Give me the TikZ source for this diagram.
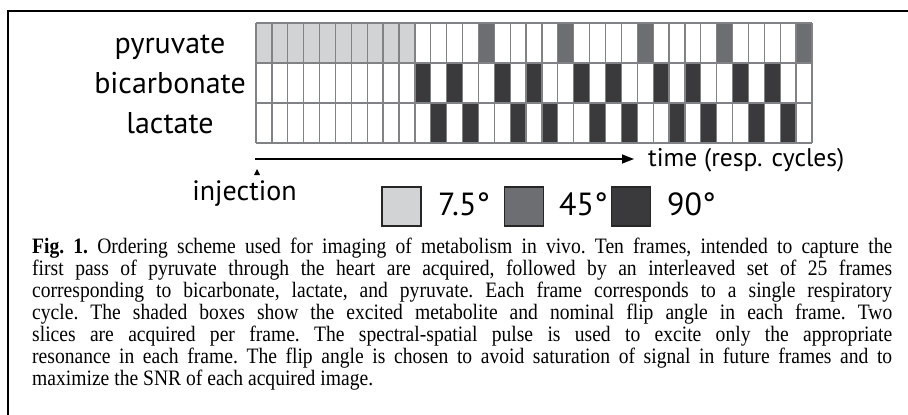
\documentclass[tikz,border=0pt]{standalone}
\usepackage{fontspec}
\setmainfont{Liberation Serif}[FakeStretch=0.89]
\setsansfont{PT Sans}
\usetikzlibrary{arrows.meta, positioning}
\definecolor{clight}{HTML}{D1D3D4}
\definecolor{cmid}{HTML}{6D6E71}
\definecolor{cdark}{HTML}{3A3A3C}
\definecolor{cgrid}{HTML}{808285}
\newcommand{\capline}[1]{\hbox to 860pt{#1}}
\tikzset{
  gridline/.style={draw=cgrid, line width=1.3pt},
  metab/.style={font=\sffamily\fontsize{30}{30}\selectfont, anchor=base, inner sep=0pt},
  axislabel/.style={font=\sffamily\fontsize{25.5}{25.5}\selectfont, anchor=base west, inner sep=0pt},
  axis/.style={-{Triangle[length=12pt, width=9pt]}, line width=1.5pt},
  swatch/.style={draw=black!85, fill=#1, line width=1.5pt, minimum width=39pt, minimum height=39pt, inner sep=0pt},
  deg/.style={font=\sffamily\fontsize{32}{32}\selectfont, anchor=base west, inner sep=0pt},
  caption/.style={font=\fontsize{22}{22}\selectfont\frenchspacing, anchor=north west, inner sep=0pt, align=left},
}

\begin{document}
\begin{tikzpicture}[x=1pt, y=-1pt]
  \useasboundingbox (0,0) rectangle (908,415);
  % frame
  \draw[line width=2pt] (908,11) -- (8,11) -- (8,415);
  % frames: 10 pyruvate, then 25 interleaved
  \def\w{15.886}
  \fill[clight] (256,23) rectangle ++(10*\w,40);
  \foreach \k in {0,...,4} {
    \fill[cdark] (256+10*\w+5*\k*\w,63) rectangle ++(\w,40);
    \fill[cdark] (256+11*\w+5*\k*\w,103) rectangle ++(\w,40);
    \fill[cdark] (256+12*\w+5*\k*\w,63) rectangle ++(\w,40);
    \fill[cdark] (256+13*\w+5*\k*\w,103) rectangle ++(\w,40);
    \fill[cmid] (256+14*\w+5*\k*\w,23) rectangle ++(\w,40);
  }
  \foreach \c in {0,...,35} \draw[gridline] (256+\c*\w,23) -- ++(0,120);
  \foreach \r in {0,...,3} \draw[gridline] (256,23+40*\r) -- ++(35*\w,0);
  % metabolite labels
  \node[metab] (pyr) at (170,53) {pyruvate};
  \node[metab] (bic) at (170,93) {bicarbonate};
  \node[metab] (lac) at (170,133) {lactate};
  % time axis
  \coordinate (t0) at (255,159);
  \coordinate (t1) at (634,159);
  \draw[axis] (t0) -- (t1);
  \node[axislabel] (time) at (648,166) {time (resp. cycles)};
  \fill (254,175) -- (260,175) -- (257,169) -- cycle;
  \node[axislabel, anchor=base, font=\sffamily\fontsize{28}{28}\selectfont] (inj) at (244.5,200) {injection};
  % flip angle legend
  \node[swatch=clight] (s1) at (401.5,206.5) {};
  \node[deg] (d1) at (438,215) {7.5°};
  \node[swatch=cmid] (s2) at (524,206.5) {};
  \node[deg] (d2) at (559,215) {45°};
  \node[swatch=cdark] (s3) at (631,206.5) {};
  \node[deg] (d3) at (667,215) {90°};
  % caption
  \node[caption] (cap) at (32,238) {%
    \capline{\textbf{Fig. 1.} Ordering scheme used for imaging of metabolism in vivo. Ten frames, intended to capture the}\\
    \capline{first pass of pyruvate through the heart are acquired, followed by an interleaved set of 25 frames}\\
    \capline{corresponding to bicarbonate, lactate, and pyruvate. Each frame corresponds to a single respiratory}\\
    \capline{cycle. The shaded boxes show the excited metabolite and nominal flip angle in each frame. Two}\\
    \capline{slices are acquired per frame. The spectral-spatial pulse is used to excite only the appropriate}\\
    \capline{resonance in each frame. The flip angle is chosen to avoid saturation of signal in future frames and to}\\
    maximize the SNR of each acquired image.};
\end{tikzpicture}
\end{document}
